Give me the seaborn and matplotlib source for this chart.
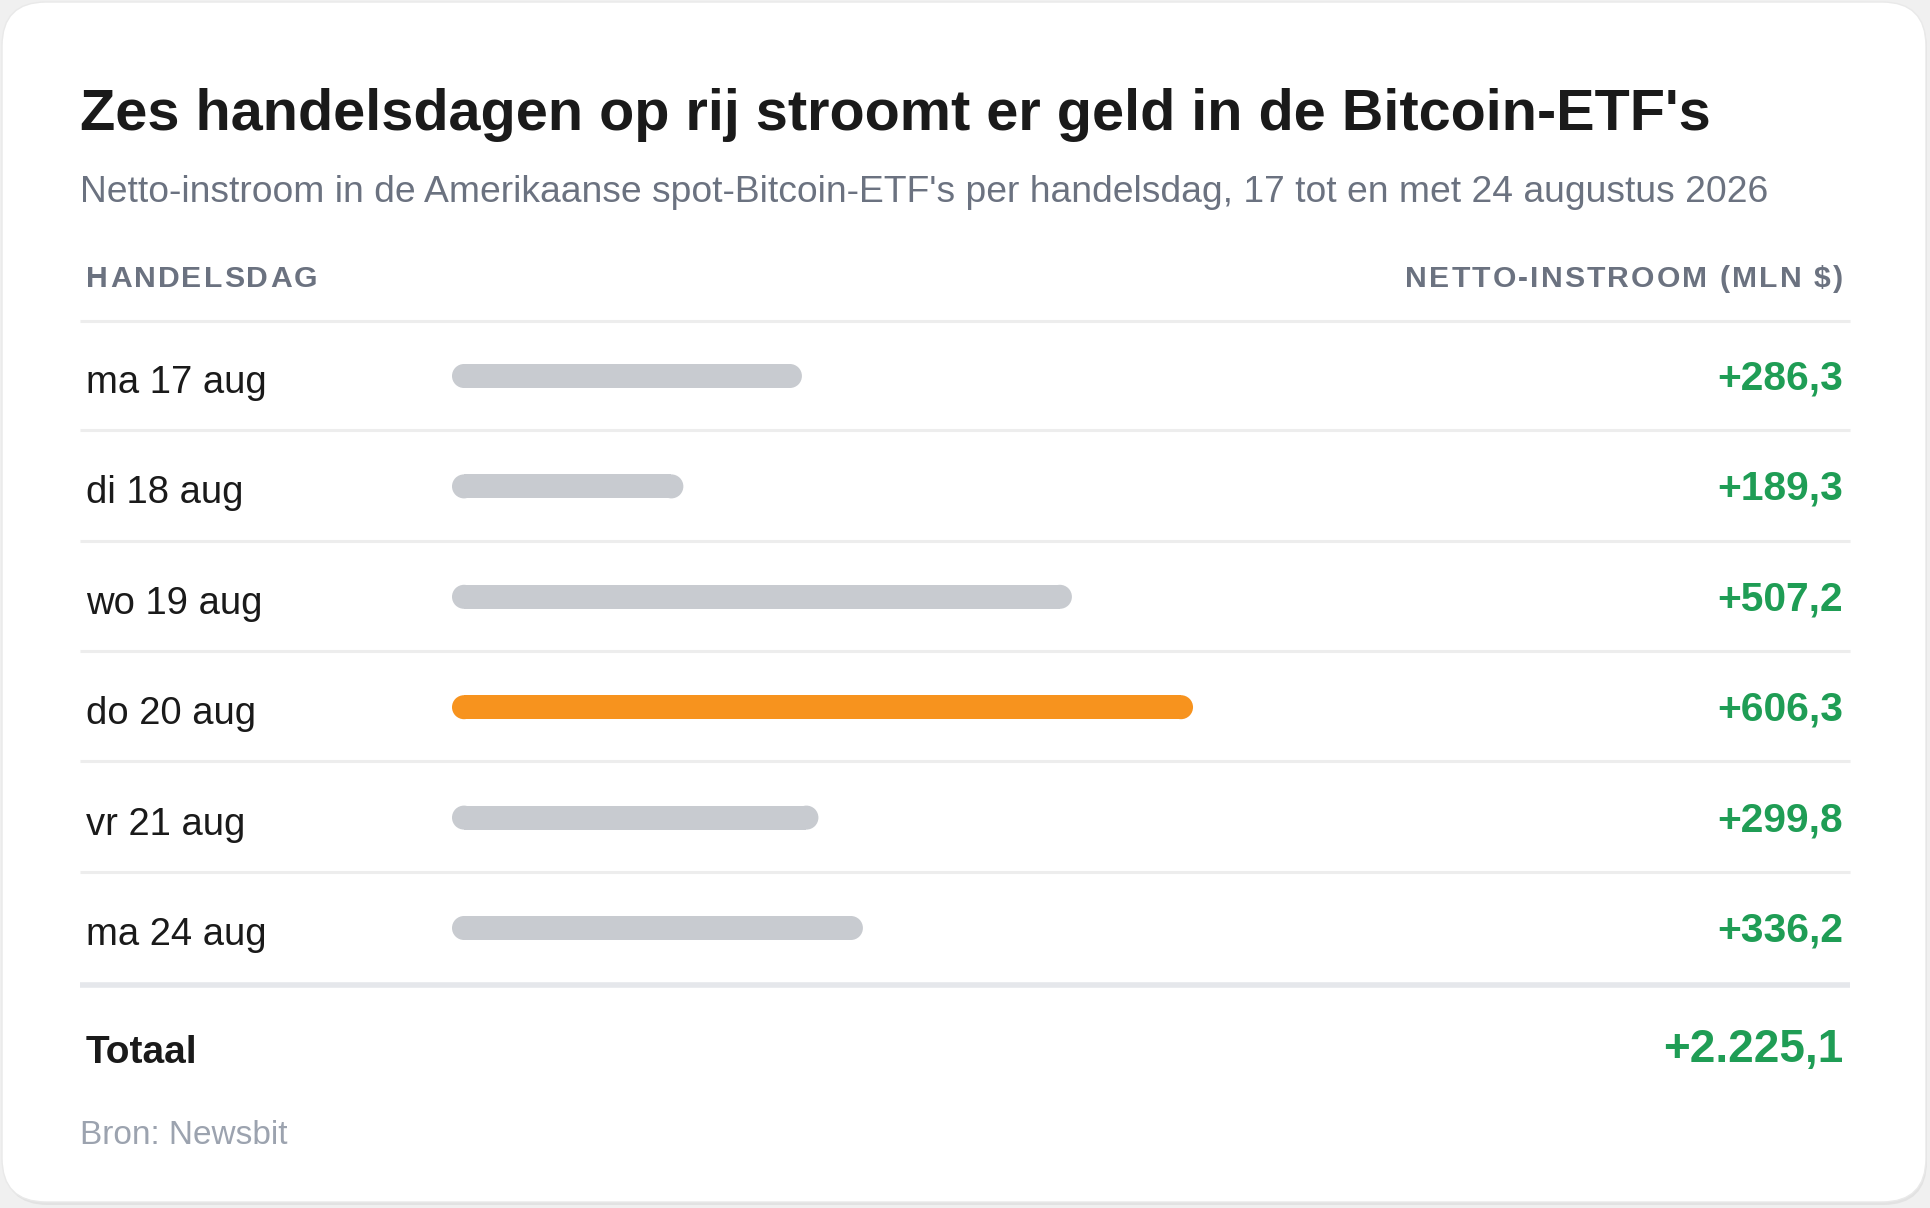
import matplotlib
matplotlib.use("Agg")
import matplotlib.pyplot as plt
from matplotlib.patches import FancyBboxPatch, Ellipse
from matplotlib.font_manager import findfont, FontProperties
from matplotlib.ft2font import FT2Font
import matplotlib.ft2font as ft2
import seaborn as sns
import pandas as pd

# ---------------- data ----------------
days = ["ma 17 aug", "di 18 aug", "wo 19 aug", "do 20 aug", "vr 21 aug", "ma 24 aug"]
inflows = [286.3, 189.3, 507.2, 606.3, 299.8, 336.2]
value_labels = ["+286,3", "+189,3", "+507,2", "+606,3", "+299,8", "+336,2"]
highlight_day = "do 20 aug"
total_label = "Totaal"
total_value = "+2.225,1"
title = "Zes handelsdagen op rij stroomt er geld in de Bitcoin-ETF's"
subtitle = ("Netto-instroom in de Amerikaanse spot-Bitcoin-ETF's per handelsdag, "
            "17 tot en met 24 augustus 2026")
col_left = "HANDELSDAG"
col_right = "NETTO-INSTROOM (MLN $)"
source = "Bron: Newsbit"

# ---------------- style ----------------
FONT = "Liberation Sans"
C_TEXT = "#1a1a1a"
C_MUTED = "#6b7280"
C_SOURCE = "#9ca3af"
C_GREEN = "#1f9d55"
C_ORANGE = "#f7931e"
C_BAR = "#c8cbd0"
C_LINE = "#ededed"
C_LINE_THICK = "#e5e7eb"

W, H = 1930, 1208
sns.set_theme(style="white")
plt.rcParams['font.family'] = [FONT, 'DejaVu Sans']

fig = plt.figure(figsize=(W / 100, H / 100), dpi=100, facecolor="#f0f0f0")
bg = fig.add_axes([0, 0, 1, 1])
bg.set_xlim(0, W)
bg.set_ylim(H, 0)
bg.axis("off")

# card with soft shadow
bg.add_patch(FancyBboxPatch((4, 5), W - 7, H - 8,
                            boxstyle="round,pad=0,rounding_size=44",
                            fc="#e2e2e2", ec="none", zorder=0))
bg.add_patch(FancyBboxPatch((2, 2), W - 6, H - 8,
                            boxstyle="round,pad=0,rounding_size=44",
                            fc="white", ec="#e9e9e9", lw=1, zorder=1))

LEFT = 80
RIGHT = 1843
LINE_X0, LINE_X1 = 80, 1850

# title & subtitle
bg.text(LEFT, 130, title, fontsize=41.5, fontweight="bold", color=C_TEXT,
        ha="left", va="baseline", zorder=3)
bg.text(LEFT, 202, subtitle, fontsize=26.8, color=C_MUTED,
        ha="left", va="baseline", zorder=3)


def advances(s, size_pt, weight):
    """Advance widths in pixels (dpi 100) from the font's unscaled metrics."""
    path = findfont(FontProperties(family=FONT, weight=weight))
    f = FT2Font(path)
    upem = f.units_per_EM
    try:
        flag = ft2.LoadFlags.NO_SCALE
    except AttributeError:
        flag = ft2.LOAD_NO_SCALE
    px_per_em = size_pt * 100.0 / 72.0
    out = []
    for c in s:
        g = f.load_char(ord(c), flags=flag)
        out.append(g.horiAdvance / upem * px_per_em)
    return out


def spaced_text(x, y, s, size_pt, spacing, ha="left", **kw):
    adv = advances(s, size_pt, "bold")
    total = sum(adv) + spacing * (len(s) - 1)
    start = x if ha == "left" else x - total
    pos = start
    for ch, a in zip(s, adv):
        bg.text(pos, y, ch, fontsize=size_pt, fontweight="bold", ha="left",
                va="baseline", zorder=3, **kw)
        pos += a + spacing


HDR_SIZE = 21.7
spaced_text(86, 287, col_left, HDR_SIZE, 2.1, color=C_MUTED)
spaced_text(RIGHT, 287, col_right, HDR_SIZE, 2.1, ha="right", color=C_MUTED)

# table lines
ROW0, STEP = 375.0, 110.4
bg.plot([LINE_X0, LINE_X1], [321, 321], color=C_LINE, lw=2.2,
        solid_capstyle="butt", zorder=2)
for i in range(len(days) - 1):
    yy = ROW0 + (i + 0.5) * STEP
    bg.plot([LINE_X0, LINE_X1], [yy, yy], color=C_LINE, lw=2.2,
            solid_capstyle="butt", zorder=2)
bg.plot([LINE_X0, LINE_X1], [984.5, 984.5], color=C_LINE_THICK, lw=4,
        solid_capstyle="butt", zorder=2)

# row labels and values
for i, (d, v) in enumerate(zip(days, value_labels)):
    yc = ROW0 + i * STEP
    bg.text(86, yc + 18, d, fontsize=27.5, color=C_TEXT, ha="left",
            va="baseline", zorder=3)
    bg.text(RIGHT, yc + 14.5, v, fontsize=29.3, fontweight="bold",
            color=C_GREEN, ha="right", va="baseline", zorder=3)

# total & source
bg.text(86, 1063, total_label, fontsize=28, fontweight="bold", color=C_TEXT,
        ha="left", va="baseline", zorder=3)
bg.text(RIGHT, 1062, total_value, fontsize=33, fontweight="bold",
        color=C_GREEN, ha="right", va="baseline", zorder=3)
bg.text(LEFT, 1144, source, fontsize=24, color=C_SOURCE, ha="left",
        va="baseline", zorder=3)

# ---------------- bars (seaborn) ----------------
X0_PX, PX_PER_UNIT, XMAX = 452.0, 1.2222, 1000.0
BAR_PX = 24.0
ax = fig.add_axes([X0_PX / W, 1 - (ROW0 + 1 + 5.5 * STEP) / H,
                   XMAX * PX_PER_UNIT / W, 6 * STEP / H])
df = pd.DataFrame({"day": days, "inflow": inflows})
palette = {d: (C_ORANGE if d == highlight_day else C_BAR) for d in days}
sns.barplot(data=df, x="inflow", y="day", hue="day", palette=palette,
            legend=False, width=BAR_PX / STEP, orient="h", saturation=1,
            ax=ax)
ax.set_xlim(0, XMAX)
ax.set_ylim(5.5, -0.5)
ax.axis("off")

# pill-shaped bars: shorten the seaborn rectangle by the cap radius and
# add semicircular caps (ellipses in data units = circles in pixels)
for p in list(ax.patches):
    x, y, w, h = p.get_x(), p.get_y(), p.get_width(), p.get_height()
    r = (BAR_PX / 2.0) / PX_PER_UNIT          # cap radius in x-units
    fc = p.get_facecolor()
    p.set_x(x + r)
    p.set_width(w - 2 * r)
    p.set_edgecolor("none")
    p.set_linewidth(0)
    for cx in (x + r, x + w - r):
        ax.add_patch(Ellipse((cx, y + h / 2.0), 2 * r, h, fc=fc, ec="none",
                             lw=0, zorder=p.get_zorder()))

fig.savefig("out.png", dpi=100, facecolor=fig.get_facecolor())
